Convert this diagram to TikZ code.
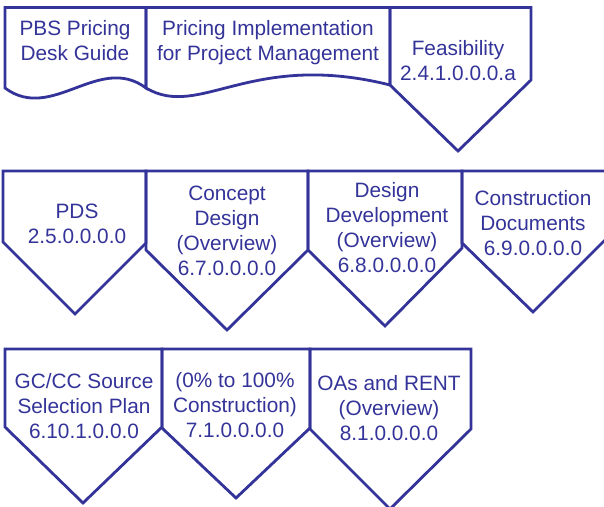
\documentclass[tikz,border=0pt]{standalone}
\usepackage{fontspec}
\setmainfont{Liberation Sans}
\definecolor{shapeblue}{HTML}{333399}
\newcommand{\mlines}[1]{\begin{tabular}[t]{@{}c@{}}#1\end{tabular}}
\begin{document}
\begin{tikzpicture}[x=1pt,y=-1pt,
  shapeline/.style={draw=shapeblue,line width=2.8pt,line join=miter},
  lbl/.style={anchor=base,inner sep=0pt,text=shapeblue,font=\fontsize{20.8}{25}\selectfont}]
\useasboundingbox (0,0) rectangle (604,506);
% row 1
\draw[shapeline] (5,7.5) -- (5,88) .. controls (52,123) and (99,53) .. (146,88) -- (146,7.5) -- cycle;
\draw[shapeline] (146,7.5) -- (146,88) .. controls (200,120) and (250,50) .. (390,85) -- (390,7.5) -- cycle;
\draw[shapeline] (390,7.5) -- (390,85) -- (458,151) -- (531,80) -- (531,7.5) -- cycle;
% row 2
\draw[shapeline] (3,171) -- (3,242) -- (75,314) -- (146,243) -- (146,171) -- cycle;
\draw[shapeline] (146,171) -- (146,250) -- (227,330) -- (308,250) -- (308,171) -- cycle;
\draw[shapeline] (308,171) -- (308,250) -- (385,326) -- (462,248) -- (462,171) -- cycle;
\draw[shapeline] (462,171) -- (462,243) -- (533,312) -- (607,238) -- (607,171) -- cycle;
% row 3
\draw[shapeline] (5,349) -- (5,427) -- (83,503) -- (162,427) -- (162,349) -- cycle;
\draw[shapeline] (162,349) -- (162,428) -- (236,498) -- (310,428) -- (310,349) -- cycle;
\draw[shapeline] (310,349) -- (310,429) -- (390,509) -- (471,429) -- (471,349) -- cycle;
% labels
\node[lbl] (pbs) at (75,35) {\mlines{PBS Pricing\\Desk Guide}};
\node[lbl] (pipm) at (268,35) {\mlines{Pricing Implementation\\for Project Management}};
\node[lbl] (feas) at (458,55) {\mlines{Feasibility\\2.4.1.0.0.0.a}};
\node[lbl] (pds) at (77,218) {\mlines{PDS\\2.5.0.0.0.0}};
\node[lbl] (cd) at (227,200) {\mlines{Concept\\Design\\(Overview)\\6.7.0.0.0.0}};
\node[lbl] (dd) at (387,197) {\mlines{Design\\Development\\(Overview)\\6.8.0.0.0.0}};
\node[lbl] (cdoc) at (533,205) {\mlines{Construction\\Documents\\6.9.0.0.0.0}};
\node[lbl] (gccc) at (84,388) {\mlines{GC/CC Source\\Selection Plan\\6.10.1.0.0.0}};
\node[lbl] (constr) at (235,387) {\mlines{(0\% to 100\%\\Construction)\\7.1.0.0.0.0}};
\node[lbl] (oas) at (389,390) {\mlines{OAs and RENT\\(Overview)\\8.1.0.0.0.0}};
\end{tikzpicture}
\end{document}
